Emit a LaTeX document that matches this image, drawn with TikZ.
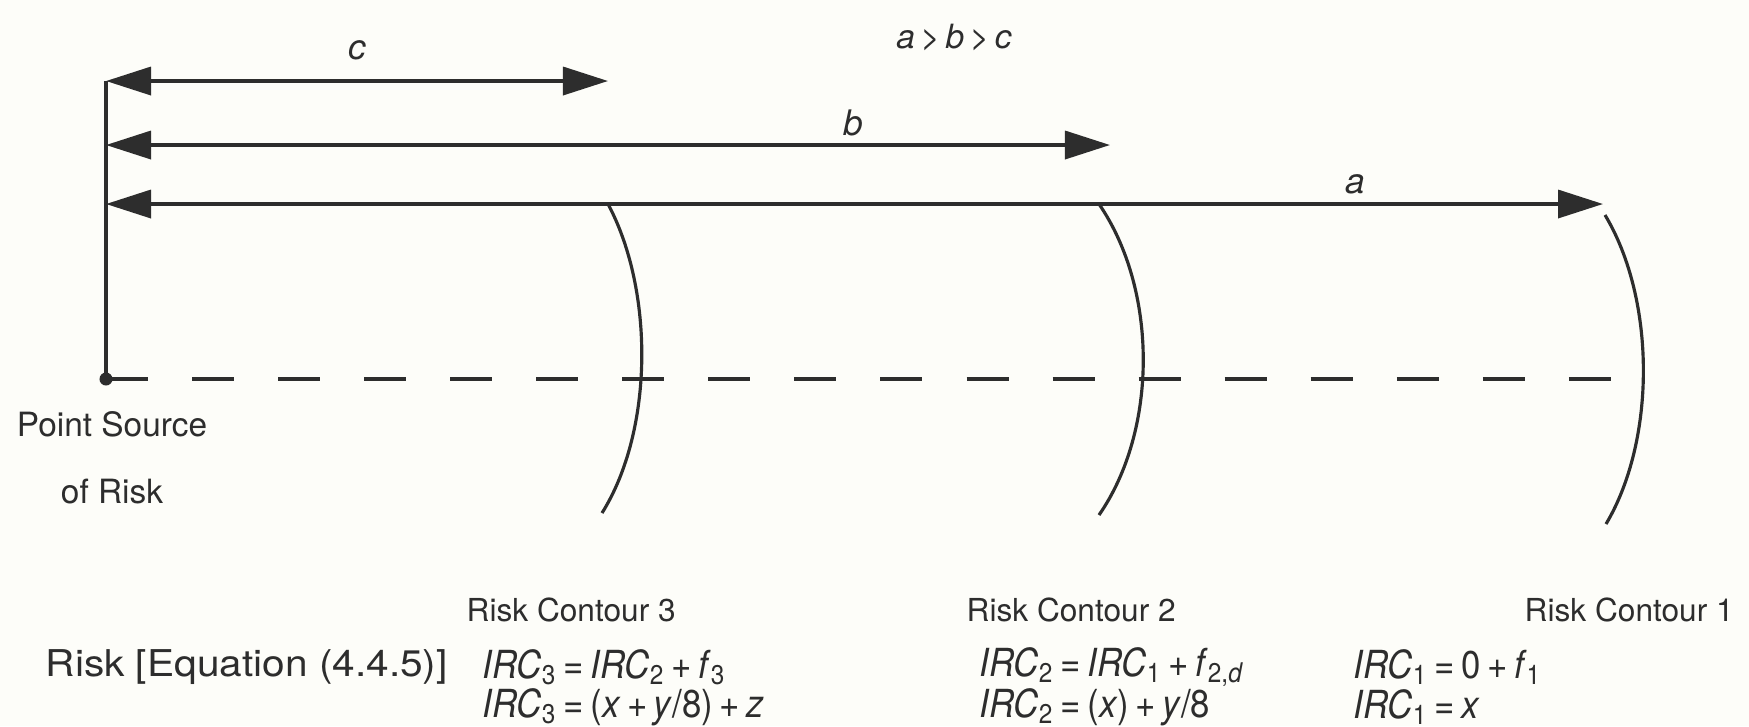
\documentclass[tikz,border=0pt]{standalone}
\usepackage{fontspec}
\setmainfont{TeX Gyre Heros}
\newfontfamily\eqfont[FakeStretch=0.9]{TeX Gyre Heros}
\newfontfamily\widefont[FakeStretch=1.1]{TeX Gyre Heros}
\usetikzlibrary{arrows.meta}
\definecolor{inkcolor}{RGB}{45,45,45}
\definecolor{papercolor}{RGB}{253,253,249}

\newcommand{\irc}[1]{\textit{IRC}\textsubscript{#1}}

\begin{document}
\begin{tikzpicture}[x=0.01cm, y=-0.01cm,
    dim/.style={{Triangle[length=4.5mm,width=2.8mm]}-{Triangle[length=4.5mm,width=2.8mm]}, line width=1pt, draw=inkcolor},
    contour/.style={line width=0.9pt, draw=inkcolor},
    lbl/.style={font=\fontsize{9}{11}\selectfont, inner sep=0pt, text=inkcolor},
    dimlbl/.style={font=\fontsize{10}{12}\selectfont\itshape, inner sep=0pt, text=inkcolor},
    eq/.style={font=\eqfont\fontsize{11}{13}\selectfont, anchor=west, inner sep=0pt, text=inkcolor}]

    % Paper
    \fill[papercolor] (0,0) rectangle (1749,726);
    \useasboundingbox (0,0) rectangle (1749,726);

    % Point source and vertical line
    \coordinate (src) at (106,379);
    \coordinate (top) at (106,81);
    \draw[line width=1pt, inkcolor] (src) -- (top);
    \fill[inkcolor] (src) circle (0.65mm);

    % Distance arrows
    \coordinate (cR) at (608,81);
    \coordinate (bL) at (106,145);
    \coordinate (bR) at (1110,145);
    \coordinate (aL) at (106,204);
    \coordinate (aR) at (1603,204);
    \draw[dim] (top) -- (cR);
    \draw[dim] (bL) -- (bR);
    \draw[dim] (aL) -- (aR);
    \node[dimlbl] (clab) at (357,50) {c};
    \node[dimlbl] (blab) at (853,123) {b};
    \node[dimlbl] (alab) at (1355,184) {a};
    \node[dimlbl, font=\fontsize{9.5}{11}\selectfont\itshape] (order) at (954,37) {a\,>\,b\,>\,c};

    % Centre line
    \coordinate (dend) at (1623,379);
    \draw[line width=1pt, inkcolor, dash pattern=on 4.2mm off 4.4mm] (src) -- (dend);

    % Risk contours
    \coordinate (k3t) at (608,204);
    \coordinate (k3b) at (602,513);
    \coordinate (k2t) at (1099,204);
    \coordinate (k2b) at (1099,515);
    \coordinate (k1t) at (1605,215);
    \coordinate (k1b) at (1606,524);
    \draw[contour] (k3t) .. controls (654,290) and (654,430) .. (k3b);
    \draw[contour] (k2t) .. controls (1158,290) and (1158,430) .. (k2b);
    \draw[contour] (k1t) .. controls (1656,300) and (1656,440) .. (k1b);

    % Labels
    \node[lbl, align=center, font=\fontsize{9.5}{19}\selectfont] (srclab) at (112,458) {Point Source\\of Risk};
    \node[lbl, anchor=west] (k3lab) at (466,610) {Risk Contour 3};
    \node[lbl, anchor=west] (k2lab) at (966,610) {Risk Contour 2};
    \node[lbl, anchor=west] (k1lab) at (1524,610) {Risk Contour 1};
    \node[lbl, anchor=west, font=\widefont\fontsize{10.5}{13}\selectfont] (risklab) at (45,667) {Risk [Equation (4.4.5)]};

    % Equations
    \node[eq] (e3a) at (482,667) {\irc{3}\,=\,\irc{2}\,+\,\textit{f}\textsubscript{3}};
    \node[eq] (e3b) at (482,707) {\irc{3}\,=\,(\textit{x}\,+\,\textit{y}/8)\,+\,\textit{z}};
    \node[eq] (e2a) at (979,667) {\irc{2}\,=\,\irc{1}\,+\,\textit{f}\textsubscript{2,\textit{d}}};
    \node[eq] (e2b) at (979,707) {\irc{2}\,=\,(\textit{x})\,+\,\textit{y}/8};
    \node[eq] (e1a) at (1353,667) {\irc{1}\,=\,0\,+\,\textit{f}\textsubscript{1}};
    \node[eq] (e1b) at (1353,707) {\irc{1}\,=\,\textit{x}};
\end{tikzpicture}
\end{document}
